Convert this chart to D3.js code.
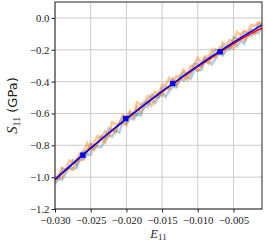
<!DOCTYPE html>
<html><head><meta charset="utf-8">
<script src="https://cdn.jsdelivr.net/npm/d3@7"></script>
<style>body{margin:0;background:#fff}svg{display:block}</style>
</head><body><svg id="c" width="266" height="241"></svg>
<script>
const strainGrid = [-0.0300,-0.0295,-0.0290,-0.0285,-0.0280,-0.0275,-0.0270,-0.0265,-0.0260,-0.0255,-0.0250,-0.0245,-0.0240,-0.0235,-0.0230,-0.0225,-0.0220,-0.0215,-0.0210,-0.0205,-0.0200,-0.0195,-0.0190,-0.0185,-0.0180,-0.0175,-0.0170,-0.0165,-0.0160,-0.0155,-0.0150,-0.0145,-0.0140,-0.0135,-0.0130,-0.0125,-0.0120,-0.0115,-0.0110,-0.0105,-0.0100,-0.0095,-0.0090,-0.0085,-0.0080,-0.0075,-0.0070,-0.0065,-0.0060,-0.0055,-0.0050,-0.0045,-0.0040,-0.0035,-0.0030,-0.0025,-0.0020,-0.0015,-0.0010];
const orangeA = [-0.995,-1.005,-0.945,-0.955,-0.895,-0.905,-0.915,-0.846,-0.847,-0.787,-0.828,-0.779,-0.740,-0.762,-0.713,-0.734,-0.656,-0.668,-0.670,-0.612,-0.624,-0.586,-0.618,-0.531,-0.543,-0.546,-0.489,-0.502,-0.465,-0.488,-0.421,-0.425,-0.378,-0.412,-0.366,-0.370,-0.324,-0.358,-0.302,-0.297,-0.251,-0.286,-0.241,-0.246,-0.201,-0.206,-0.221,-0.156,-0.172,-0.138,-0.153,-0.089,-0.105,-0.081,-0.088,-0.044,-0.051,-0.027,-0.034];
const orangeB = [-1.035,-0.985,-1.005,-0.955,-0.945,-0.955,-0.885,-0.896,-0.887,-0.837,-0.798,-0.829,-0.790,-0.752,-0.783,-0.744,-0.706,-0.718,-0.660,-0.662,-0.674,-0.616,-0.618,-0.561,-0.593,-0.556,-0.519,-0.552,-0.515,-0.468,-0.491,-0.445,-0.448,-0.392,-0.426,-0.390,-0.364,-0.388,-0.342,-0.307,-0.331,-0.306,-0.261,-0.286,-0.241,-0.246,-0.191,-0.226,-0.192,-0.168,-0.193,-0.149,-0.115,-0.141,-0.118,-0.084,-0.101,-0.047,-0.064];
const blueA = [-1.045,-1.005,-1.015,-0.975,-0.935,-0.945,-0.945,-0.886,-0.887,-0.857,-0.858,-0.799,-0.810,-0.812,-0.763,-0.734,-0.746,-0.708,-0.720,-0.652,-0.664,-0.626,-0.638,-0.601,-0.613,-0.556,-0.559,-0.512,-0.535,-0.498,-0.471,-0.495,-0.458,-0.432,-0.436,-0.380,-0.394,-0.368,-0.382,-0.327,-0.331,-0.326,-0.271,-0.276,-0.291,-0.256,-0.221,-0.236,-0.202,-0.198,-0.153,-0.179,-0.145,-0.161,-0.108,-0.114,-0.091,-0.097,-0.054];
const blueB = [-1.005,-1.015,-0.945,-0.955,-0.945,-0.895,-0.925,-0.866,-0.837,-0.847,-0.788,-0.819,-0.780,-0.742,-0.753,-0.694,-0.706,-0.708,-0.660,-0.622,-0.644,-0.596,-0.598,-0.611,-0.553,-0.526,-0.539,-0.482,-0.495,-0.498,-0.441,-0.435,-0.438,-0.382,-0.416,-0.370,-0.344,-0.348,-0.342,-0.287,-0.291,-0.306,-0.251,-0.256,-0.231,-0.196,-0.221,-0.176,-0.182,-0.188,-0.123,-0.129,-0.135,-0.091,-0.098,-0.074,-0.091,-0.037,-0.044];
const lineE = [-0.0300,-0.0275,-0.0250,-0.0225,-0.0200,-0.0175,-0.0150,-0.0125,-0.0100,-0.0075,-0.0050,-0.0025,-0.0010];
const fitS = [-1.015,-0.915,-0.818,-0.724,-0.634,-0.546,-0.461,-0.380,-0.301,-0.226,-0.153,-0.084,-0.044];
const meanS = [-1.015,-0.915,-0.818,-0.724,-0.634,-0.547,-0.463,-0.384,-0.306,-0.233,-0.162,-0.097,-0.065];
const markerE = [-0.0261,-0.0201,-0.0135,-0.00685];
const markerS = [-0.862,-0.632,-0.412,-0.212];
const xTicks = [-0.030,-0.025,-0.020,-0.015,-0.010,-0.005];
const yTicks = [0.0,-0.2,-0.4,-0.6,-0.8,-1.0,-1.2];

const L=55,R=262,T=2,B=209;
const svg = d3.select('#c');
const x = d3.scaleLinear().domain([-0.030,-0.001]).range([L,R]);
const y = d3.scaleLinear().domain([-1.2,0.1]).range([B,T]);
const fmt = f => v => d3.format(f)(v).replace('-','\u2212');

// grid
const g = svg.append('g');
g.selectAll('.gx').data(xTicks).join('line').attr('x1',d=>x(d)).attr('x2',d=>x(d)).attr('y1',T).attr('y2',B).attr('stroke','#cbcbcb').attr('stroke-width',1);
g.selectAll('.gy').data(yTicks).join('line').attr('y1',d=>y(d)).attr('y2',d=>y(d)).attr('x1',L).attr('x2',R).attr('stroke','#cbcbcb').attr('stroke-width',1);

svg.append('clipPath').attr('id','clip').append('rect').attr('x',L).attr('y',T).attr('width',R-L).attr('height',B-T);
const p = svg.append('g').attr('clip-path','url(#clip)');
const line = arr => d3.line().x((d,i)=>x(strainGrid[i])).y(d=>y(d))(arr);
[[blueA,'#1f77b4',0.35],[blueB,'#1f77b4',0.35],[orangeA,'#ff7f0e',0.45],[orangeB,'#ff7f0e',0.45]].forEach(([arr,c,o])=>{
  p.append('path').attr('d',line(arr)).attr('fill','none').attr('stroke',c).attr('stroke-opacity',o).attr('stroke-width',2.6).attr('stroke-linejoin','miter');
});
const sl = arr => d3.line().curve(d3.curveMonotoneX).x((d,i)=>x(lineE[i])).y(d=>y(d))(arr);
p.append('path').attr('d',sl(meanS)).attr('fill','none').attr('stroke','#ff0000').attr('stroke-width',1.5);
p.append('path').attr('d',sl(fitS)).attr('fill','none').attr('stroke','#0000ff').attr('stroke-width',1.5);
p.selectAll('.m').data(markerE).join('rect').attr('x',(d)=>x(d)-2.7).attr('y',(d,i)=>y(markerS[i])-2.7).attr('width',5.4).attr('height',5.4).attr('fill','#0000ff');

// axes
const tf = 'Liberation Serif';
const ax = svg.append('g').attr('transform',`translate(0,${B})`).call(d3.axisBottom(x).tickValues(xTicks).tickFormat(fmt('.3f')).tickSize(3.5).tickPadding(3.5));
const ay = svg.append('g').attr('transform',`translate(${L},0)`).call(d3.axisLeft(y).tickValues(yTicks).tickFormat(fmt('.1f')).tickSize(3.5).tickPadding(2));
[ax,ay].forEach(a=>{a.select('.domain').remove();a.selectAll('text').attr('font-family',tf).attr('font-size','10.8px').attr('fill','#222');a.selectAll('line').attr('stroke','#222');});
svg.append('rect').attr('x',L).attr('y',T).attr('width',R-L).attr('height',B-T).attr('fill','none').attr('stroke','#222').attr('stroke-width',1);

// labels
const xl = svg.append('text').attr('x',(L+R)/2).attr('y',237.5).attr('text-anchor','middle').attr('font-family',tf).attr('font-size','12.5px').attr('fill','#222');
xl.append('tspan').attr('font-style','italic').text('E');
xl.append('tspan').attr('font-size','9px').attr('dy',2).text('11');
const yl = svg.append('text').attr('transform',`translate(17,${(T+B)/2}) rotate(-90)`).attr('text-anchor','middle').attr('font-size','13px').attr('fill','#222');
yl.append('tspan').attr('font-family',tf).attr('font-size','14.5px').attr('font-style','italic').text('S');
yl.append('tspan').attr('font-family',tf).attr('font-size','10px').attr('dy',3).text('11');
yl.append('tspan').attr('font-family','DejaVu Sans').attr('dy',-3).text(' (GPa)');
</script></body></html>
